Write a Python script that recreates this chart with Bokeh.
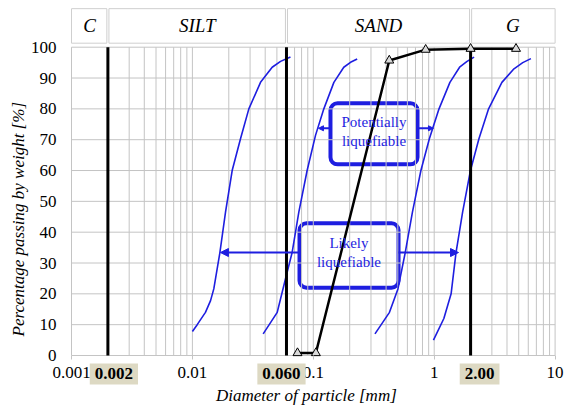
from bokeh.plotting import figure
from bokeh.models import (Range1d, FixedTicker, BoxAnnotation, Label, Arrow, NormalHead,
                          CustomJSTickFormatter)
from bokeh.core.properties import value
from bokeh.embed import file_html
from bokeh.resources import INLINE

# ---------------- data ----------------
grain_d = [0.074, 0.105, 0.425, 0.85, 2.0, 4.75]
grain_p = [0.8, 0.8, 95.7, 99.2, 99.5, 99.5]

bound1_d = [0.0100, 0.01096, 0.01282, 0.01413, 0.01503, 0.01687, 0.01879, 0.02133, 0.0250,
            0.0293, 0.0366, 0.0457, 0.0536, 0.0647]
bound1_p = [7.8, 10.0, 14.0, 17.8, 21.6, 33.3, 46.5, 60.0, 70.3, 80.0, 88.6, 93.5, 95.4, 96.8]

bound2_d = [0.0385, 0.0503, 0.0589, 0.0669, 0.0759, 0.0889, 0.1043, 0.1222, 0.148, 0.1787,
            0.2032, 0.2306]
bound2_p = [7.0, 14.0, 24.9, 33.5, 46.5, 60.0, 71.4, 80.0, 88.6, 93.5, 95.1, 96.2]

bound3_d = [0.3236, 0.4266, 0.5012, 0.5754, 0.6607, 0.7762, 0.912, 1.096, 1.349, 1.622,
            1.87, 2.138]
bound3_p = [7.0, 14.0, 21.6, 33.3, 46.5, 60.0, 70.3, 80.0, 88.6, 93.5, 95.4, 96.8]

bound4_d = [0.986, 1.202, 1.380, 1.514, 1.718, 1.995, 2.344, 2.818, 3.631, 4.571, 5.4, 6.310]
bound4_p = [5.0, 12.0, 20.0, 33.3, 46.5, 60.0, 70.3, 80.0, 88.6, 93.0, 95.0, 96.3]

limits_d = [0.002, 0.06, 2.0]
limit_labels = ["0.002", "0.060", "2.00"]

classes = ["C", "SILT", "SAND", "G"]
class_lo = [0.001, 0.002, 0.06, 2.0]
class_hi = [0.002, 0.06, 2.0, 10.0]

x_ticks = [0.001, 0.01, 0.1, 1, 10]
y_ticks = [0, 10, 20, 30, 40, 50, 60, 70, 80, 90, 100]

# ---------------- layout (pixel geometry of the canvas) ----------------
W, H = 565, 412
X0_PX, DEC_PX = 71.0, 120.9      # pixel of d = 0.001, pixels per decade
Y0_PX, UNIT_PX = 355.0, 3.083    # pixel of 0 %, pixels per 1 %
x_start = 10 ** (-3 - X0_PX / DEC_PX)
x_end = 10 ** (-3 + (W - X0_PX) / DEC_PX)
y_start = -(H - Y0_PX) / UNIT_PX
y_end = Y0_PX / UNIT_PX
LIMIT_LABEL_SHIFT = [6, -5, 9]   # px offsets of the highlighted limit labels

SERIF = "Liberation Serif"
BLUE = "#1e1ee0"
GRID = "#c4c4c4"
NB = "\u00a0"

p = figure(x_axis_type="log", x_range=Range1d(x_start, x_end), y_range=Range1d(y_start, y_end),
           width=W, height=H, min_border=0, output_backend="svg", toolbar_location=None)
p.outline_line_color = None
p.background_fill_color = "white"
p.border_fill_color = "white"
p.grid.visible = False

# grid lines of the 0.001-10 / 0-100 area
minor = [m * 10.0 ** e for e in range(-3, 1) for m in range(1, 10)] + [10.0]
p.segment(x0=minor, y0=[0] * len(minor), x1=minor, y1=[100] * len(minor),
          line_color=GRID, line_width=1)
p.segment(x0=[0.001] * len(y_ticks), y0=y_ticks, x1=[10] * len(y_ticks), y1=y_ticks,
          line_color=GRID, line_width=1)

# axes fixed to the data origin
xa, ya = p.xaxis[0], p.yaxis[0]
xa.fixed_location = 0
ya.fixed_location = 0.001
xa.ticker = FixedTicker(ticks=x_ticks)
xa.formatter = CustomJSTickFormatter(code="return tick.toString()")
ya.ticker = FixedTicker(ticks=y_ticks)
for ax in (xa, ya):
    ax.axis_line_color = None
    ax.minor_tick_line_color = None
    ax.major_label_text_font = SERIF
    ax.major_label_text_font_size = "17px"
    ax.major_label_text_color = "black"
    ax.axis_label_text_font = SERIF
    ax.axis_label_text_font_style = "italic"
    ax.axis_label_text_font_size = "17px"
    ax.axis_label_text_color = "black"
xa.major_tick_line_color = GRID
xa.major_tick_out = 4
xa.major_tick_in = 0
xa.major_label_standoff = 7
xa.axis_label = NB * 12 + "Diameter of particle  [mm]"
xa.axis_label_standoff = 5
ya.major_tick_line_color = None
ya.major_tick_out = 0
ya.major_tick_in = 0
ya.major_label_standoff = 15
ya.axis_label = "Percentage passing by weight [%]" + NB * 6
ya.axis_label_standoff = 0

# header class boxes
hl = [lo * 1.02 if lo > 0.001 else lo for lo in class_lo]
hr = [hi / 1.02 if hi < 10 else hi for hi in class_hi]
p.quad(left=hl, right=hr, bottom=101.3, top=112.5, fill_color="white",
       line_color="#cfcfcf", line_width=1)
p.text(x=[(lo * hi) ** 0.5 for lo, hi in zip(class_lo, class_hi)], y=[106.9] * 4, text=classes,
       text_font=value(SERIF), text_font_style="italic", text_font_size="19px",
       text_align="center", text_baseline="middle", text_color="black")

# annotation boxes (white, under the grading curve)
p.add_layout(BoxAnnotation(left=0.1387, right=0.7278, bottom=62.0, top=81.8,
                           fill_color="white", fill_alpha=1.0, line_color=BLUE, line_alpha=1.0,
                           line_width=4, border_radius=7, level="underlay"))
p.add_layout(BoxAnnotation(left=0.0769, right=0.507, bottom=22.0, top=42.9,
                           fill_color="white", fill_alpha=1.0, line_color=BLUE, line_alpha=1.0,
                           line_width=4, border_radius=7, level="underlay"))

# boundary curves
for xs, ys in ((bound1_d, bound1_p), (bound2_d, bound2_p), (bound3_d, bound3_p), (bound4_d, bound4_p)):
    p.line(xs, ys, line_color=BLUE, line_width=1.6, line_join="round")

# classification limits
p.segment(x0=limits_d, y0=[0] * 3, x1=limits_d, y1=[100] * 3, line_color="black", line_width=3)

# grading curve
p.line(grain_d, grain_p, line_color="black", line_width=2.5)
p.scatter(grain_d, grain_p, marker="triangle", size=9, line_color="black",
          fill_color="#d9d9d9", line_width=1)

# arrows
def arrow(x0, x1, y, size):
    p.add_layout(Arrow(end=NormalHead(size=size, fill_color=BLUE, line_color=BLUE),
                       x_start=x0, y_start=y, x_end=x1, y_end=y,
                       line_color=BLUE, line_width=2))

arrow(0.0769, 0.01706, 33.4, 8)
arrow(0.507, 1.589, 33.4, 8)
arrow(0.1387, 0.1104, 73.7, 5)
arrow(0.7278, 0.986, 73.7, 5)

# box texts
for txt, x, y in (("Potentially", 0.3177, 75.8), ("liquefiable", 0.3177, 69.6),
                  ("Likely", 0.1972, 36.4), ("liquefiable", 0.1972, 30.4)):
    p.add_layout(Label(x=x, y=y, text=txt, text_font=SERIF, text_font_size="15px",
                       text_color=BLUE, text_align="center", text_baseline="middle"))

# highlighted limit labels
for d, lab, dx in zip(limits_d, limit_labels, LIMIT_LABEL_SHIFT):
    p.add_layout(Label(x=d, y=-6.0, x_offset=dx, text=lab, text_font=SERIF,
                       text_font_style="bold", text_font_size="17px", text_color="black",
                       text_align="center", text_baseline="middle",
                       background_fill_color="#ddd9c3", background_fill_alpha=1.0, padding=5))

open("out.html", "w").write(file_html(p, INLINE))
